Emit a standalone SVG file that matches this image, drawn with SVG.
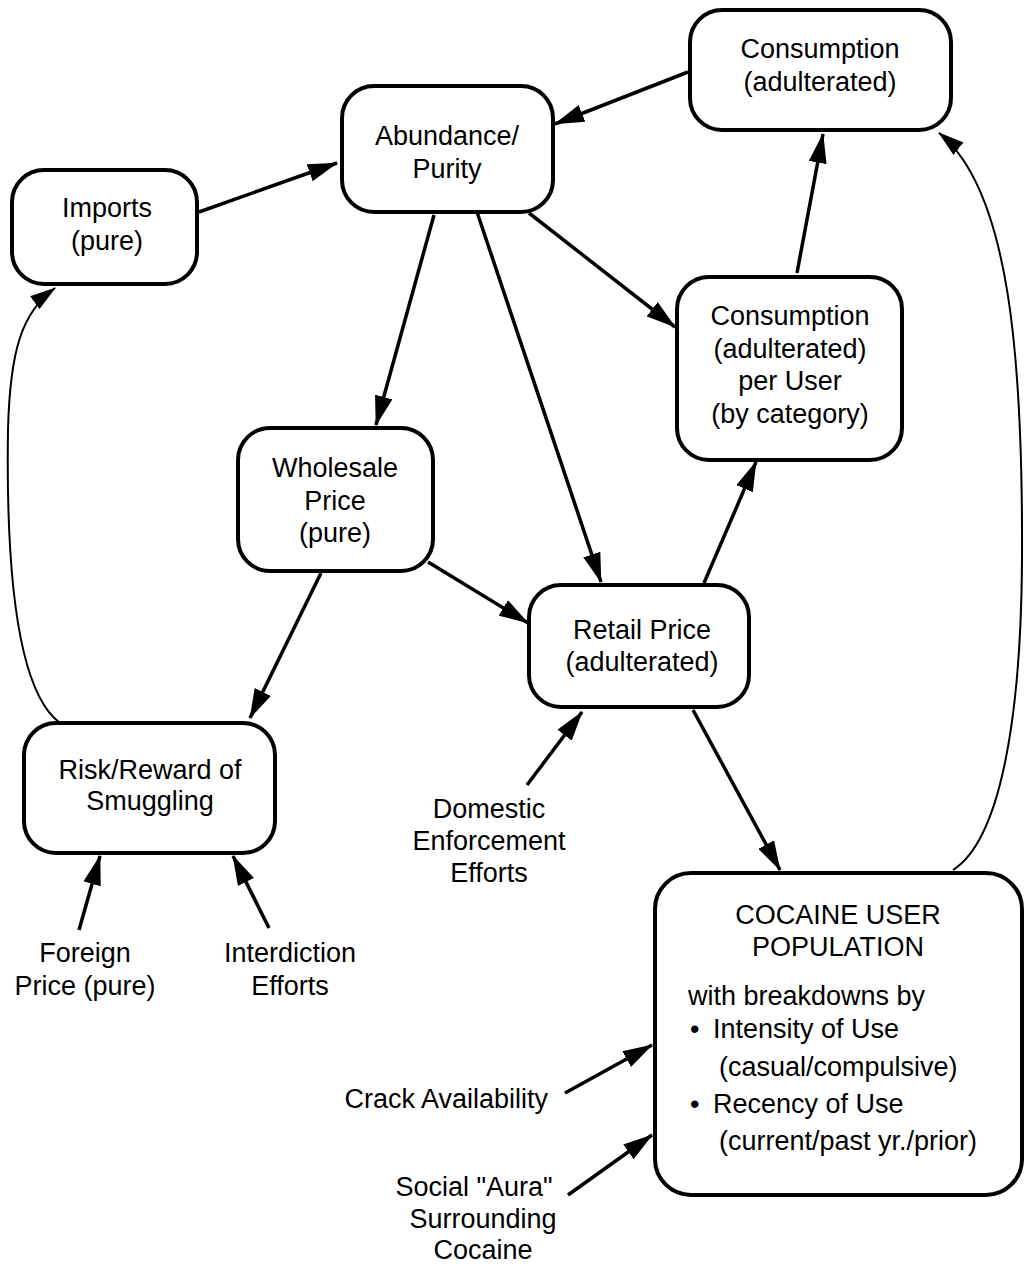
<svg xmlns="http://www.w3.org/2000/svg" width="1024" height="1264" viewBox="0 0 1024 1264">
<defs>
<marker id="ah" viewBox="0 0 30 18" refX="29" refY="9" markerWidth="30" markerHeight="18" markerUnits="userSpaceOnUse" orient="auto"><path d="M0,0 L30,9 L0,18 z" fill="#000"/></marker>
<marker id="ahs" viewBox="0 0 26 16" refX="25" refY="8" markerWidth="26" markerHeight="16" markerUnits="userSpaceOnUse" orient="auto"><path d="M0,0 L26,8 L0,16 z" fill="#000"/></marker>
</defs>
<style>
.box{fill:#fff;stroke:#000;stroke-width:4}
text{font-family:"Liberation Sans",Arial,Helvetica,sans-serif;font-size:27px;fill:#000}
.c{text-anchor:middle}
.e{stroke:#000;stroke-width:3.5;fill:none;marker-end:url(#ah)}
.t{stroke:#000;stroke-width:2;fill:none;marker-end:url(#ahs)}
</style>
<rect width="1024" height="1264" fill="#fff"/>
<g id="connectors">
<line class="e" x1="688" y1="72" x2="555" y2="124"/>
<line class="e" x1="199" y1="212" x2="337" y2="163"/>
<line class="e" x1="434" y1="215" x2="376" y2="425"/>
<line class="e" x1="477" y1="212" x2="601" y2="582"/>
<line class="e" x1="529" y1="213" x2="675" y2="327"/>
<line class="e" x1="797" y1="273" x2="823" y2="134"/>
<line class="e" x1="704" y1="583" x2="756" y2="462"/>
<line class="e" x1="428" y1="562" x2="528" y2="623"/>
<line class="e" x1="321" y1="573" x2="250" y2="718"/>
<line class="e" x1="527" y1="785" x2="582" y2="712"/>
<line class="e" x1="693" y1="710" x2="780" y2="870"/>
<line class="e" x1="79" y1="930" x2="100" y2="856"/>
<line class="e" x1="269" y1="928" x2="233" y2="856"/>
<line class="e" x1="565" y1="1093" x2="652" y2="1045"/>
<line class="e" x1="568" y1="1195" x2="652" y2="1135"/>
<path class="t" d="M 60 723 C 15 690, 6 560, 8 430 C 10 350, 22 312, 55 288"/>
<path class="t" d="M 953 870 C 1000 840, 1021 720, 1022 560 C 1023 360, 1010 190, 939 133"/>
</g>
<g id="consumption">
<rect class="box" x="690" y="10" width="261" height="120" rx="32"/>
<text class="c" x="820" y="58">Consumption</text>
<text class="c" x="820" y="91">(adulterated)</text>
</g>
<g id="abundance">
<rect class="box" x="342" y="86" width="211" height="126" rx="32"/>
<text class="c" x="447" y="145">Abundance/</text>
<text class="c" x="447" y="178">Purity</text>
</g>
<g id="imports">
<rect class="box" x="12" y="170" width="185" height="114" rx="32"/>
<text class="c" x="107" y="217">Imports</text>
<text class="c" x="107" y="250">(pure)</text>
</g>
<g id="consumption-per-user">
<rect class="box" x="677" y="277" width="225" height="183" rx="32"/>
<text class="c" x="790" y="325">Consumption</text>
<text class="c" x="790" y="358">(adulterated)</text>
<text class="c" x="790" y="390">per User</text>
<text class="c" x="790" y="423">(by category)</text>
</g>
<g id="wholesale">
<rect class="box" x="238" y="428" width="195" height="143" rx="32"/>
<text class="c" x="335" y="477">Wholesale</text>
<text class="c" x="335" y="510">Price</text>
<text class="c" x="335" y="542">(pure)</text>
</g>
<g id="retail">
<rect class="box" x="529" y="585" width="220" height="122" rx="32"/>
<text class="c" x="642" y="639">Retail Price</text>
<text class="c" x="642" y="671">(adulterated)</text>
</g>
<g id="risk">
<rect class="box" x="24" y="723" width="251" height="130" rx="32"/>
<text class="c" x="150" y="779">Risk/Reward of</text>
<text class="c" x="150" y="810">Smuggling</text>
</g>
<g id="domestic">
<text class="c" x="489" y="818">Domestic</text>
<text class="c" x="489" y="850">Enforcement</text>
<text class="c" x="489" y="882">Efforts</text>
</g>
<g id="foreign">
<text class="c" x="85" y="962">Foreign</text>
<text class="c" x="85" y="995">Price (pure)</text>
</g>
<g id="interdiction">
<text class="c" x="290" y="962">Interdiction</text>
<text class="c" x="290" y="995">Efforts</text>
</g>
<g id="cocaine-users">
<rect class="box" x="655" y="873" width="367" height="322" rx="36"/>
<text class="c" x="838" y="924">COCAINE USER</text>
<text class="c" x="838" y="956">POPULATION</text>
<text x="688" y="1005">with breakdowns by</text>
<text x="690" y="1038">•</text>
<text x="713" y="1038">Intensity of Use</text>
<text x="719" y="1076">(casual/compulsive)</text>
<text x="690" y="1113">•</text>
<text x="713" y="1113">Recency of Use</text>
<text x="719" y="1150">(current/past yr./prior)</text>
</g>
<g id="crack">
<text x="548" y="1108" text-anchor="end">Crack Availability</text>
</g>
<g id="social-aura">
<text class="c" x="474" y="1196">Social "Aura"</text>
<text class="c" x="483" y="1228">Surrounding</text>
<text class="c" x="483" y="1259">Cocaine</text>
</g>
</svg>
